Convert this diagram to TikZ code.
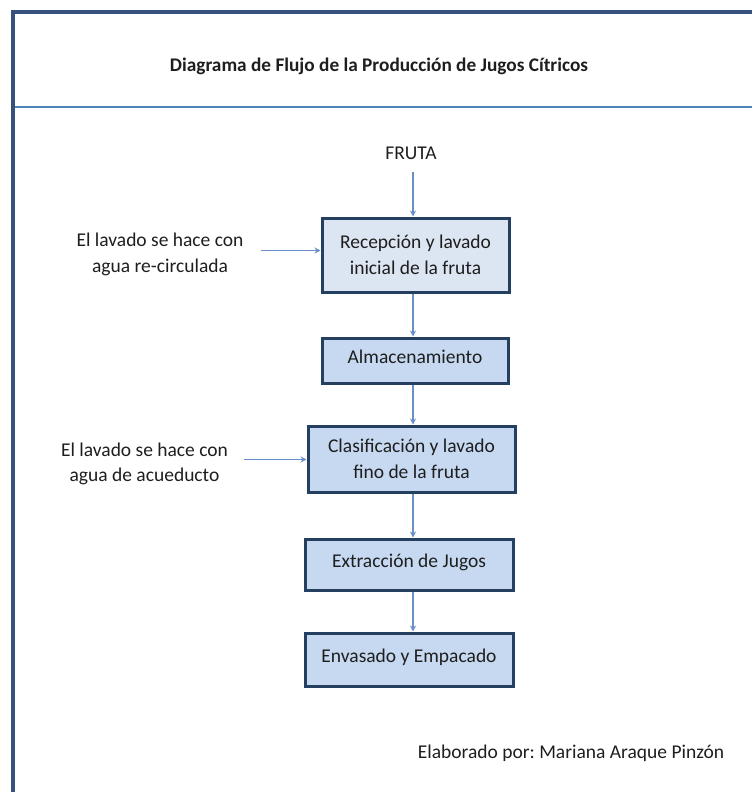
\documentclass[tikz,border=0pt]{standalone}
\usepackage{fontspec}
\setmainfont{Carlito}
\frenchspacing
\usetikzlibrary{arrows.meta}
\definecolor{framecol}{HTML}{36527C}
\definecolor{sepcol}{HTML}{4F81BD}
\definecolor{boxline}{HTML}{243F60}
\definecolor{boxfill}{HTML}{C6D9F1}
\definecolor{boxfilllight}{HTML}{DCE6F2}
\definecolor{arrowcol}{HTML}{6A8FC6}
\definecolor{textcol}{HTML}{1E1E1E}
\tikzset{
  stepbox/.style={draw=boxline, line width=3pt, fill=boxfill, text=textcol,
    align=center, inner sep=0pt, font=\fontsize{19.5}{25.5}\selectfont},
  oneline/.style={text height=14pt, text depth=9pt},
  note/.style={align=center, text=textcol, inner sep=0pt,
    font=\fontsize{19.5}{25.5}\selectfont},
  flow/.style={draw=arrowcol, line width=1.3pt,
    -{Stealth[length=6pt,width=6pt]}},
}
\begin{document}
\begin{tikzpicture}[x=1pt,y=-1pt]
  \useasboundingbox (0,0) rectangle (752,792);
  % page frame: top rule, left rule, title separator
  \draw[framecol, line width=3.5pt] (13,792) -- (13,12) -- (752,12);
  \draw[sepcol, line width=2.2pt] (14.75,107) -- (752,107);
  \node[inner sep=0pt, text=textcol, font=\fontsize{19.3}{22}\selectfont\bfseries]
    (title) at (379,66) {Diagrama de Flujo de la Producción de Jugos Cítricos};

  % process boxes
  \node[stepbox, fill=boxfilllight, minimum width=187pt, minimum height=74pt]
    (b1) at (415.5,255) {Recepción y lavado\\inicial de la fruta};
  \node[stepbox, oneline, minimum width=186pt, minimum height=45pt]
    (b2) at (415,360.5) {Almacenamiento};
  \node[stepbox, minimum width=207pt, minimum height=66pt]
    (b3) at (411.5,459) {Clasificación y lavado\\fino de la fruta};
  \node[stepbox, oneline, minimum width=208pt, minimum height=51pt]
    (b4) at (409,564.5) {Extracción de Jugos};
  \node[stepbox, oneline, minimum width=208pt, minimum height=53pt]
    (b5) at (409,659.5) {Envasado y Empacado};

  % input and side notes
  \node[note] (fruta) at (411,153) {FRUTA};
  \node[note] (n1) at (160,254.5) {El lavado se hace con\\agua re-circulada};
  \node[note] (n2) at (144.5,464) {El lavado se hace con\\agua de acueducto};
  \node[note] (author) at (571,753) {Elaborado por: Mariana Araque Pinzón};

  % arrow anchors
  \coordinate (f0) at (413,172);
  \coordinate (s1) at (261,250.5);
  \coordinate (s2) at (244,459.5);

  % connectors
  \draw[flow] (f0) -- (f0 |- b1.north);
  \draw[flow] (s1) -- (s1 -| b1.west);
  \draw[flow] (s2) -- (s2 -| b3.west);
  \draw[flow] (b1.south -| f0) -- (b2.north -| f0);
  \draw[flow] (b2.south -| f0) -- (b3.north -| f0);
  \draw[flow] (b3.south -| f0) -- (b4.north -| f0);
  \draw[flow] (b4.south -| f0) -- (b5.north -| f0);
\end{tikzpicture}
\end{document}
